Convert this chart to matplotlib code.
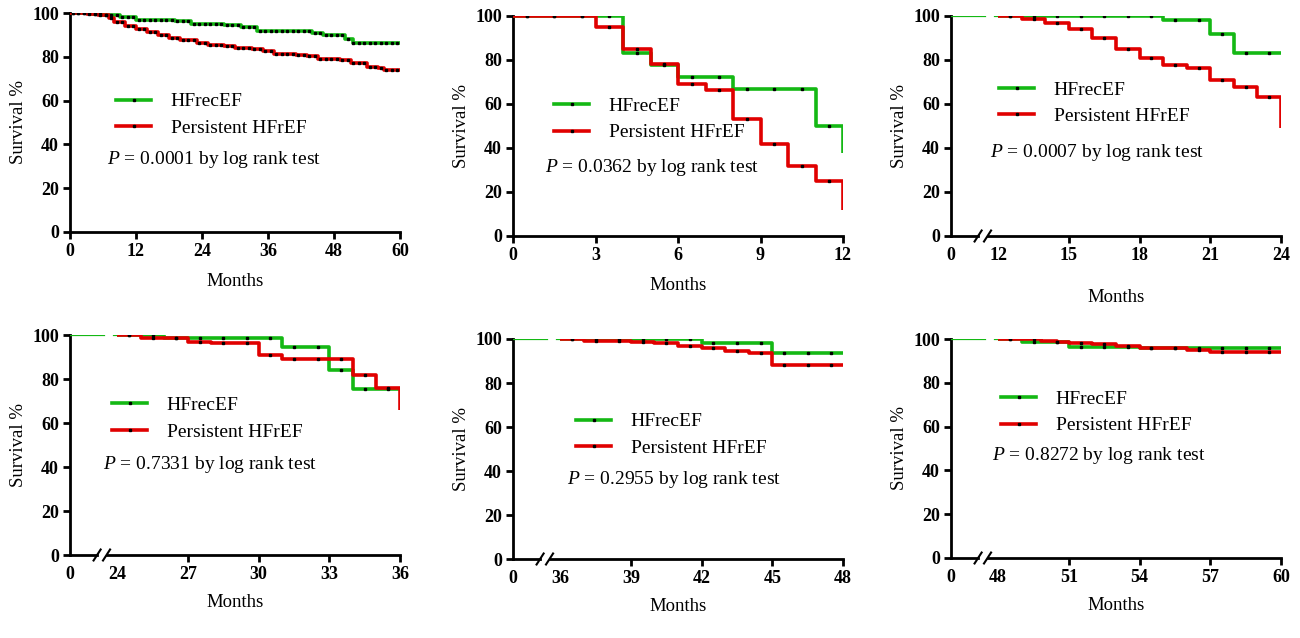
import numpy as np
import matplotlib.pyplot as plt
from matplotlib.lines import Line2D

plt.rcParams['font.family'] = ['Liberation Serif', 'DejaVu Serif']
plt.rcParams['mathtext.fontset'] = 'custom'
plt.rcParams['mathtext.it'] = 'Liberation Serif:italic'
plt.rcParams['mathtext.rm'] = 'Liberation Serif'

GREEN = "#14b814"
RED = "#e00000"

# ---- step data: (time, survival after drop) ----
p1_green_t = [0, 4, 6, 9, 12, 19, 22, 28, 31, 34, 44, 46, 50, 51.5, 60]
p1_green_s = [100, 99.5, 99, 98, 97, 96.5, 95, 94.5, 93.5, 92, 91, 90, 88, 86.5, 86.5]
p1_red_t = [0, 3, 5, 7, 8, 10, 12, 14, 16, 18, 20, 23, 25, 28, 30, 33, 35, 37, 41, 43, 45, 49, 51, 54, 56, 57, 60]
p1_red_s = [100, 99.5, 99, 97.5, 96, 94, 92.5, 91.5, 90, 88.5, 87.5, 86.5, 85.5, 85, 84, 83.5, 82.5, 81.5,
            81, 80.5, 79, 78.5, 77, 75.5, 75, 74, 74]

p2_green_t = [0, 4, 5, 6, 8, 11, 12]
p2_green_s = [100, 83.3, 77.8, 72.2, 66.7, 50, 37.5]
p2_red_t = [0, 3, 4, 5, 6, 7, 8, 9, 10, 11, 12]
p2_red_s = [100, 95, 85, 78, 69, 66.5, 53, 42, 32, 25, 12]

p3_green_t = [12, 19, 21, 22, 24]
p3_green_s = [100, 98, 92, 83, 83]
p3_red_t = [12, 13, 14, 15, 16, 17, 18, 19, 20, 21, 22, 23, 24]
p3_red_s = [100, 98.5, 97, 94, 90, 85, 81, 77.5, 76.5, 71, 67.5, 63, 49]

p4_green_t = [24, 26, 31, 33, 34, 36]
p4_green_s = [100, 98.5, 94.5, 84, 75.5, 75.5]
p4_red_t = [24, 25, 27, 28, 30, 31, 34, 35, 36]
p4_red_s = [100, 98.5, 97, 96.5, 91, 89, 82, 76, 66]

p5_green_t = [36, 42, 45, 48]
p5_green_s = [100, 98, 93.5, 93.5]
p5_red_t = [36, 37, 39, 40, 41, 42, 43, 44, 45, 48]
p5_red_s = [100, 99, 98.5, 98, 97, 96, 94.5, 93.5, 88, 88]

p6_green_t = [48, 49, 51, 54, 60]
p6_green_s = [100, 98.5, 96.5, 96, 96]
p6_red_t = [48, 49.8, 50.5, 51, 52, 53, 54, 56, 57, 60]
p6_red_s = [100, 99, 98.5, 98, 97.5, 97, 96, 95, 94, 94]

p_values = ["0.0001", "0.0362", "0.0007", "0.7331", "0.2955", "0.8272"]

# axes rectangles in pixels (left, top, right, bottom)
rects = [(70, 13, 400, 232), (513, 16, 843, 236), (951, 16, 1281, 236),
         (70, 335, 400, 555), (513, 339, 843, 559), (951, 339, 1281, 558)]
# legend anchor (x of line start px, y frac of green, red, P)
legpos = [(107, 0.60, 0.47, 0.33), (545, 0.59, 0.47, 0.31), (990, 0.67, 0.54, 0.38),
          (103, 0.69, 0.55, 0.41), (567, 0.63, 0.50, 0.36), (992, 0.73, 0.60, 0.47)]
xlabel_pad = [9, 9, 18, 8, 8, 8]

panels = [
    (p1_green_t, p1_green_s, p1_red_t, p1_red_s, None),
    (p2_green_t, p2_green_s, p2_red_t, p2_red_s, None),
    (p3_green_t, p3_green_s, p3_red_t, p3_red_s, 12),
    (p4_green_t, p4_green_s, p4_red_t, p4_red_s, 24),
    (p5_green_t, p5_green_s, p5_red_t, p5_red_s, 36),
    (p6_green_t, p6_green_s, p6_red_t, p6_red_s, 48),
]

W, H = 1300, 638
fig = plt.figure(figsize=(13, 6.38), dpi=100)


def step(ax, t, s, color, off):
    t = np.array(t, float) - off
    ax.step(t, s, where="post", color=color, lw=2.6, solid_capstyle="butt", zorder=3)
    # censor marks
    cx = np.arange(np.ceil(t[0]) + 0.5, t[-1], 1.0)
    cy = [s[np.searchsorted(t, c, side="right") - 1] for c in cx]
    ax.plot(cx, cy, ls="none", marker="s", ms=1.5, color="black", zorder=4)


for i, ((gt, gs, rt, rs, start), (l, t, r, b)) in enumerate(zip(panels, rects)):
    ax = fig.add_axes([l / W, 1 - b / H, (r - l) / W, (b - t) / H])
    off = 0 if start is None else start - 2
    if start is None:
        xmax = gt[-1]
        ticks = np.arange(0, xmax + 0.1, 12 if xmax == 60 else 3)
        ax.set_xticks(ticks)
        ax.set_xticklabels([str(int(v)) for v in ticks])
    else:
        xmax = gt[-1] - off
        ticks = [0] + list(np.arange(start, gt[-1] + 0.1, 3) - off)
        labels = ["0"] + [str(int(v + off)) for v in ticks[1:]]
        ax.set_xticks(ticks)
        ax.set_xticklabels(labels)
        # leading segment before the break
        ax.plot([0, 1.45], [100, 100], color=GREEN, lw=1.6, zorder=3)
        ax.plot([1.85, 2], [100, 100], color=GREEN, lw=1.6, zorder=3)
    step(ax, gt, gs, GREEN, off)
    step(ax, rt, rs, RED, off)
    ax.set_xlim(0, xmax)
    ax.set_ylim(0, 100)
    ax.set_yticks([0, 20, 40, 60, 80, 100])
    for sp in ["top", "right"]:
        ax.spines[sp].set_visible(False)
    ax.spines["left"].set_linewidth(2)
    ax.spines["bottom"].set_linewidth(2)
    ax.tick_params(width=2, length=5, labelsize=13, pad=3)
    for lab in ax.get_xticklabels() + ax.get_yticklabels():
        lab.set_fontweight("bold")
    if start is not None:
        ax.spines["bottom"].set_visible(False)
        ax.get_xticklines()[0].set_visible(False)
        ax.get_xticklines()[2].set_visible(False)
        ax.plot([0, 1.15], [0, 0], color="black", lw=2, clip_on=False, zorder=5)
        ax.plot([1.55, xmax], [0, 0], color="black", lw=2, clip_on=False, zorder=5)
        for xb in [1.15, 1.55]:
            ax.plot([xb - 0.15, xb + 0.15], [-2.5, 2.5], color="black", lw=1.5, clip_on=False, zorder=5)
    ax.set_ylabel("Survival %", fontsize=13.5)
    ax.set_xlabel("Months", fontsize=13.5, labelpad=xlabel_pad[i])

    lx, gy, ry, py = legpos[i]
    fx = (lx - l) / (r - l)
    handles = [Line2D([], [], color=GREEN, lw=2.6, marker="s", ms=1.5, mfc="k", mec="k"),
               Line2D([], [], color=RED, lw=2.6, marker="s", ms=1.5, mfc="k", mec="k")]
    ax.legend(handles, ["HFrecEF", "Persistent HFrEF"], loc="center left",
              bbox_to_anchor=(fx - 0.025, (gy + ry) / 2), frameon=False, fontsize=14,
              handlelength=1.8, handletextpad=1.0, labelspacing=0.45)
    ax.text(fx, py, r"$P$ = " + p_values[i] + " by log rank test",
            transform=ax.transAxes, fontsize=14, va="center", ha="left")

fig.savefig("out.png", dpi=100)
